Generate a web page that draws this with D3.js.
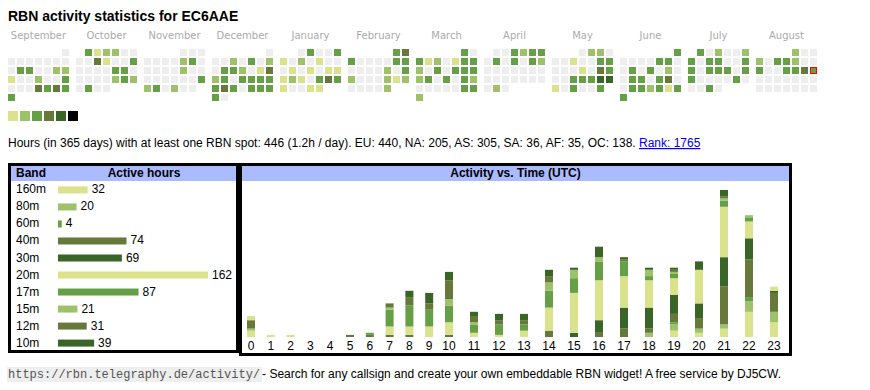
<!DOCTYPE html>
<html><head><meta charset="utf-8">
<script src="https://cdn.jsdelivr.net/npm/d3@7"></script>
<style>
body{margin:0;background:#fff}
svg{display:block;font-family:"Liberation Sans",Arial,sans-serif}
</style>
</head><body>
<svg id="c" width="870" height="390"></svg>
<script>
// ---------- data ----------
const title = "RBN activity statistics for EC6AAE";
const monthNames = ["September","October","November","December","January","February","March","April","May","June","July","August"];
const startYear = 2024, startMonth = 8;
// daily activity level per month (0 = none, 1..5 = shade)
const sep = [0, 0,0,0,0,0,0,0, 0,3,3,0,0,2,2, 1,0,0,2,0,0,3, 0,0,0,4,3,4,3, 3];
const oct = [3,1,2,2,0,0, 0,0,4,1,0,0,3, 0,0,0,0,3,3,0, 0,0,0,0,2,3,2, 0,3,0,0];
const nov = [0,0,0, 0,0,0,0,2,3,0, 0,0,0,0,2,0,0, 0,0,0,0,0,0,3, 2,3,0,2,0,0];
const dec = [0, 0,0,2,0,3,0,2, 0,3,3,2,0,1,4, 2,3,0,3,3,3,3, 3,4,3,0,3,3,3, 3,0];
const jan = [0,3,0,0,3, 1,0,2,0,1,0,0, 0,1,0,1,0,1,1, 1,2,1,0,3,4,3, 1,0,0,1,1];
const feb = [3,4, 3,0,0,0,0,3,3, 0,0,0,0,2,0,3, 2,0,0,0,2,1,2, 0,0,0,0,2];
const mar = [3,0, 3,1,2,0,1,3,3, 2,0,3,0,3,3,3, 2,3,0,3,0,3,2, 0,0,0,0,0,3,3, 2];
const apr = [0,0,3,2,3,3, 0,3,0,3,0,3,2, 0,0,0,0,0,0,0, 0,0,0,0,0,0,0, 0,2,0];
const may = [0,2,2,0, 0,0,1,0,0,3,3, 0,0,0,1,0,4,3, 0,0,3,3,3,5,5, 1,0,3,0,0,3];
const jun = [3, 0,0,0,0,3,3,0, 0,3,0,3,0,2,0, 0,3,3,0,3,4,0, 0,3,3,2,3,1,3, 3];
const jul = [3,0,2,0,0,2, 3,0,3,3,0,0,3, 3,0,3,3,3,0,3, 3,0,0,0,0,3,0, 0,0,3,0];
const aug = [2,0,0, 2,0,3,3,2,0,0, 3,0,0,3,3,4,3, 0,0,0,0,0,0,0, 0,0,0,0,0,0,0];
const dayLevels = [sep,oct,nov,dec,jan,feb,mar,apr,may,jun,jul,aug];
const today = "2025-08-17";

const shades = ["#eeeeee","#dae28b","#9ec26a","#66a046","#66793a","#396527"];
const legendColors = ["#dae28b","#9ec26a","#66a046","#66793a","#396527","#000000"];

const infoText = "Hours (in 365 days) with at least one RBN spot: 446 (1.2h / day). EU: 440, NA: 205, AS: 305, SA: 36, AF: 35, OC: 138. ";
const rankText = "Rank: 1765";

const bands = ["160m","80m","60m","40m","30m","20m","17m","15m","12m","10m"];
const bandHours = [32,20,4,74,69,162,87,21,31,39];
const bandShade = [1,2,3,4,5,1,3,2,4,5];

const hourLabels = [0,1,2,3,4,5,6,7,8,9,10,11,12,13,14,15,16,17,18,19,20,21,22,23];
const h160 = [3,1,1,0,0,0,0,0,0,0,0,0,0,0,0,0,0,0,0,3,2,4,12,7];
const h80  = [1,0,0,0,0,0,0,0,0,0,0,0,0,0,0,0,0,0,2,3,2,2,5,5];
const h60  = [0,0,0,0,0,0,0,0,0,0,0,0,0,0,0,0,0,0,0,1,0,0,2,0];
const h40  = [4,0,0,0,0,1,1,1,1,0,1,0,0,0,3,0,2,4,2,4,5,18,18,9];
const h30  = [0,0,0,0,0,0,0,0,0,0,0,0,0,0,0,2,6,10,10,9,7,14,10,1];
const h20  = [2,0,0,0,0,0,0,4,4,5,6,2,1,3,11,19,19,15,13,8,16,24,8,2];
const h17  = [0,0,0,0,0,0,1,8,10,8,8,4,5,3,8,7,9,7,2,2,0,3,2,0];
const h15  = [0,0,0,0,0,0,0,1,0,0,3,1,0,0,4,4,2,0,3,1,0,1,1,0];
const h12  = [0,0,0,0,0,0,0,2,4,3,9,3,2,2,3,0,0,1,0,1,0,1,0,0];
const h10  = [0,0,0,0,0,0,0,0,3,5,4,2,3,3,3,1,5,1,1,1,4,3,0,0];
const hourly = [h160,h80,h60,h40,h30,h20,h17,h15,h12,h10];

const footerCode = "https://rbn.telegraphy.de/activity/";
const footerText = " - Search for any callsign and create your own embeddable RBN widget! A free service by DJ5CW.";

// ---------- drawing ----------
const svg = d3.select("#c");
svg.append("rect").attr("width",870).attr("height",390).attr("fill","#fff");

svg.append("text").attr("x",8).attr("y",21)
  .attr("font-size",14).attr("font-weight","bold").attr("fill","#000").text(title);

// calendar heatmap
const monthX = d3.scaleLinear().domain([0,11]).range([8,756]);
const colX = d3.scaleLinear().domain([0,6]).range([0,54]);
const rowY = d3.scaleLinear().domain([0,5]).range([49,94]);
const cell = 7;
const parseDay = d3.timeParse("%Y-%m-%d");
const todayDate = parseDay(today);

svg.append("g").selectAll("text").data(monthNames).join("text")
  .attr("x",(d,i)=>monthX(i)+colX(6)/2+cell/2).attr("y",39)
  .attr("text-anchor","middle").attr("font-family","'DejaVu Sans',Verdana,sans-serif")
  .attr("font-size",10).attr("fill","#aaaaaa").text(d=>d);

const days = [];
dayLevels.forEach((arr,m)=>{
  const first = new Date(startYear, startMonth+m, 1);
  arr.forEach((lv,k)=>{
    const d = new Date(first.getFullYear(), first.getMonth(), k+1);
    days.push({m, date:d, lv, col:(d.getDay()+6)%7, row:d3.timeMonday.count(first,d)});
  });
});
const gCal = svg.append("g");
gCal.selectAll("rect.day").data(days).join("rect").attr("class","day")
  .attr("x",d=>monthX(d.m)+colX(d.col)).attr("y",d=>rowY(d.row))
  .attr("width",cell).attr("height",cell)
  .attr("fill",d=>shades[d.lv]);
gCal.selectAll("rect.today").data(days.filter(d=>+d.date===+todayDate)).join("rect")
  .attr("class","today")
  .attr("x",d=>monthX(d.m)+colX(d.col)+0.5).attr("y",d=>rowY(d.row)+0.5)
  .attr("width",cell-1).attr("height",cell-1)
  .attr("fill","none").attr("stroke","#ff0000").attr("stroke-width",1);

// legend
const legX = d3.scaleLinear().domain([0,5]).range([8,68]);
svg.append("g").selectAll("rect").data(legendColors).join("rect")
  .attr("x",(d,i)=>legX(i)).attr("y",111).attr("width",10).attr("height",10).attr("fill",d=>d);

// info line
const info = svg.append("text").attr("x",8).attr("y",147).attr("font-size",12).attr("fill","#000");
info.append("tspan").text(infoText);
info.append("tspan").attr("fill","#0000ee").style("text-decoration","underline").text(rankText);

// ---------- band table ----------
const gL = svg.append("g");
gL.append("rect").attr("x",11).attr("y",166).attr("width",225).attr("height",15).attr("fill","#aabbff");
gL.append("rect").attr("x",9.5).attr("y",164.5).attr("width",228).attr("height",187)
  .attr("fill","none").attr("stroke","#000").attr("stroke-width",3);
gL.append("text").attr("x",16).attr("y",177).attr("font-size",12).attr("font-weight","bold").text("Band");
gL.append("text").attr("x",144).attr("y",177).attr("text-anchor","middle").attr("font-size",12).attr("font-weight","bold").text("Active hours");

const bandY = d3.scaleBand().domain(bands).range([181.5,351.5]).paddingInner(0.59).paddingOuter(0.29);
const barW = d3.scaleLinear().domain([0,d3.max(bandHours)]).range([0,150]);
const bRows = gL.selectAll("g.row").data(bands).join("g").attr("class","row");
bRows.append("text").attr("x",16).attr("y",(d)=>bandY(d)+7).attr("font-size",12).text(d=>d);
bRows.append("rect").attr("x",58).attr("y",d=>bandY(d)).attr("height",7)
  .attr("width",(d,i)=>barW(bandHours[i])).attr("fill",(d,i)=>shades[bandShade[i]]);
bRows.append("text").attr("x",(d,i)=>58+barW(bandHours[i])+4).attr("y",d=>bandY(d)+7)
  .attr("font-size",12).text((d,i)=>bandHours[i]);

// ---------- activity vs time ----------
const gR = svg.append("g");
gR.append("rect").attr("x",242).attr("y",166).attr("width",547).attr("height",15).attr("fill","#aabbff");
gR.append("rect").attr("x",240.5).attr("y",164.5).attr("width",550).attr("height",190)
  .attr("fill","none").attr("stroke","#000").attr("stroke-width",3);
gR.append("text").attr("x",515.5).attr("y",177).attr("text-anchor","middle")
  .attr("font-size",12).attr("font-weight","bold").text("Activity vs. Time (UTC)");

const table = hourLabels.map((h,i)=>{
  const o = {hour:h};
  bands.forEach((b,j)=>o[b]=hourly[j][i]);
  return o;
});
const stack = d3.stack().keys(bands)(table);
const hx = d3.scaleLinear().domain([0,10,23]).range([251,449,774]);
const hy = d3.scaleLinear().domain([0,70]).range([337,190]);
const barWidth = 8;
gR.selectAll("g.layer").data(stack).join("g").attr("class","layer")
  .attr("fill",(d,i)=>shades[bandShade[i]])
  .selectAll("rect").data(d=>d.filter(p=>p[1]>p[0])).join("rect")
  .attr("x",p=>hx(p.data.hour)-barWidth/2).attr("width",barWidth)
  .attr("y",p=>hy(p[1])).attr("height",p=>hy(p[0])-hy(p[1]));
gR.selectAll("text.hl").data(hourLabels).join("text").attr("class","hl")
  .attr("x",d=>hx(d)).attr("y",350).attr("text-anchor","middle").attr("font-size",12).text(d=>d);

// ---------- footer ----------
const gF = svg.append("g");
const codeBg = gF.append("rect").attr("x",7).attr("y",367).attr("height",15).attr("fill","#eeeeee");
const code = gF.append("text").attr("x",8).attr("y",378)
  .attr("font-family","'Liberation Mono','DejaVu Sans Mono',monospace").attr("font-size",12)
  .attr("fill","#555").text(footerCode);
const cw = code.node().getComputedTextLength();
codeBg.attr("width",cw+3);
gF.append("text").attr("x",8+cw+2).attr("y",378).attr("font-size",12).attr("fill","#000").text(footerText);
</script>
</body></html>
